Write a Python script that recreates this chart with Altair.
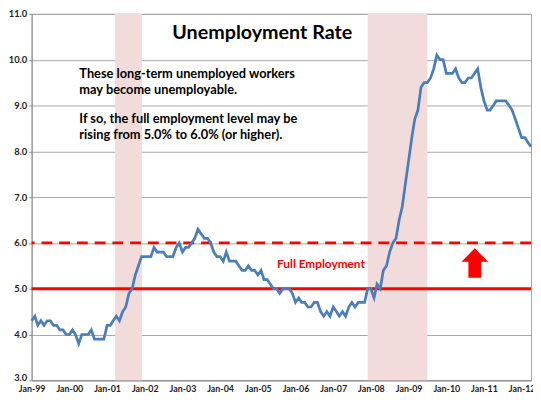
import altair as alt
import pandas as pd

# ---- data (monthly unemployment rate, %) ----
rate_1999 = [4.3, 4.4, 4.2, 4.3, 4.2, 4.3, 4.3, 4.2, 4.2, 4.1, 4.1, 4.0]
rate_2000 = [4.0, 4.1, 4.0, 3.8, 4.0, 4.0, 4.0, 4.1, 3.9, 3.9, 3.9, 3.9]
rate_2001 = [4.2, 4.2, 4.3, 4.4, 4.3, 4.5, 4.6, 4.9, 5.0, 5.3, 5.5, 5.7]
rate_2002 = [5.7, 5.7, 5.7, 5.9, 5.8, 5.8, 5.8, 5.7, 5.7, 5.7, 5.9, 6.0]
rate_2003 = [5.8, 5.9, 5.9, 6.0, 6.1, 6.3, 6.2, 6.1, 6.1, 6.0, 5.8, 5.7]
rate_2004 = [5.7, 5.6, 5.8, 5.6, 5.6, 5.6, 5.5, 5.4, 5.4, 5.5, 5.4, 5.4]
rate_2005 = [5.3, 5.4, 5.2, 5.2, 5.1, 5.0, 5.0, 4.9, 5.0, 5.0, 5.0, 4.9]
rate_2006 = [4.7, 4.8, 4.7, 4.7, 4.6, 4.6, 4.7, 4.7, 4.5, 4.4, 4.5, 4.4]
rate_2007 = [4.6, 4.5, 4.4, 4.5, 4.4, 4.6, 4.7, 4.6, 4.7, 4.7, 4.7, 5.0]
rate_2008 = [5.0, 4.8, 5.1, 5.0, 5.4, 5.5, 5.8, 6.0, 6.1, 6.5, 6.8, 7.3]
rate_2009 = [7.8, 8.3, 8.7, 8.9, 9.4, 9.5, 9.5, 9.6, 9.8, 10.1, 10.0, 10.0]
rate_2010 = [9.7, 9.7, 9.7, 9.8, 9.6, 9.5, 9.5, 9.6, 9.6, 9.7, 9.8, 9.4]
rate_2011 = [9.1, 8.9, 8.9, 9.0, 9.1, 9.1, 9.1, 9.1, 9.0, 8.9, 8.7, 8.5]
rate_2012 = [8.3, 8.3, 8.2, 8.1]

rates = (rate_1999 + rate_2000 + rate_2001 + rate_2002 + rate_2003 + rate_2004
         + rate_2005 + rate_2006 + rate_2007 + rate_2008 + rate_2009 + rate_2010
         + rate_2011 + rate_2012)
months = [f"{1999 + i // 12}/{i % 12 + 1:02d}/01" for i in range(len(rates))]

tick_years = list(range(1999, 2013))

recession_start = ["2001/03/20", "2007/12/01"]
recession_end = ["2001/12/05", "2009/07/01"]

full_employment_old = [5.0]
full_employment_new = [6.0]

# ---- annotations (anchored in data coordinates) ----
title_text = ["Unemployment Rate"]
title_at = ["2005/02/13"]
title_val = [10.58]

note_lines = ["These long-term unemployed workers",
              "may become unemployable.",
              "If so, the full employment level may be",
              "rising from 5.0% to 6.0% (or higher)."]
note_at = ["2000/04/07"] * 4
note_vals = [9.69, 9.34, 8.71, 8.36]

fe_text = ["Full Employment"]
fe_at = ["2006/09/04"]
fe_val = [5.54]

arrow_at = ["2010/10/04"]
arrow_val = [5.56]

FONT = "Lato"

series = pd.DataFrame({"month": months, "rate": rates})
bands = pd.DataFrame({"start": recession_start, "end": recession_end})
old_df = pd.DataFrame({"level": full_employment_old})
new_df = pd.DataFrame({"level": full_employment_new})
title_df = pd.DataFrame({"d": title_at, "v": title_val, "t": title_text})
note_df = pd.DataFrame({"d": note_at, "v": note_vals, "t": note_lines})
fe_df = pd.DataFrame({"d": fe_at, "v": fe_val, "t": fe_text})
arrow_df = pd.DataFrame({"d": arrow_at, "v": arrow_val})

x_scale = alt.Scale(domain=[alt.DateTime(year=1999, month=1, date=1),
                            alt.DateTime(year=2012, month=4, date=1)])
y_scale = alt.Scale(domain=[3, 11], nice=False, zero=False)

x_axis = alt.Axis(values=[alt.DateTime(year=y, month=1, date=1) for y in tick_years],
                  format="%b-%y", grid=False, ticks=False, labelAngle=0,
                  labelFlush=False, labelOverlap=False, labelBound=False, title=None,
                  domainColor="#8c8c8c", labelFont=FONT, labelFontWeight="bold",
                  labelFontSize=9, labelColor="#222222", labelPadding=4)
y_axis = alt.Axis(values=list(range(3, 12)), format=".1f", grid=True,
                  gridColor="#a6a6a6", gridWidth=1, domainColor="#8c8c8c",
                  tickColor="#8c8c8c", tickSize=3, title=None,
                  labelFont=FONT, labelFontWeight="bold", labelFontSize=9.5,
                  labelColor="#222222", labelPadding=2,
                  labelBaseline={"condition": {"test": "datum.value === 3",
                                               "value": "alphabetic"},
                                 "value": "middle"})


def xe(field):
    return alt.X(field, scale=x_scale, axis=x_axis)


def ye(field):
    return alt.Y(field, scale=y_scale, axis=y_axis)


band_layer = alt.Chart(bands).mark_rect(color="#f2dcdb", opacity=1).encode(
    x=xe("start:T"), x2="end:T")

old_rule = alt.Chart(old_df).mark_rule(color="#ff0000", strokeWidth=3).encode(
    y=ye("level:Q"))
new_rule = alt.Chart(new_df).mark_rule(color="#ff0000", strokeWidth=3,
                                       strokeDash=[11, 7]).encode(
    y=ye("level:Q"))

line = alt.Chart(series).mark_line(color="#4a7ebb", strokeWidth=2.75).encode(
    x=xe("month:T"), y=ye("rate:Q"))

title_layer = alt.Chart(title_df).mark_text(
    font=FONT, fontWeight="bold", fontSize=20, color="#000000",
    align="center", baseline="middle").encode(
    x=xe("d:T"), y=ye("v:Q"), text="t:N")

note_layer = alt.Chart(note_df).mark_text(
    font=FONT, fontWeight="bold", fontSize=13, color="#000000",
    align="left", baseline="middle").encode(
    x=xe("d:T"), y=ye("v:Q"), text="t:N")

fe_layer = alt.Chart(fe_df).mark_text(
    font=FONT, fontWeight="bold", fontSize=12, color="#ff0000",
    align="center", baseline="middle").encode(
    x=xe("d:T"), y=ye("v:Q"), text="t:N")

arrow_path = "M0,-1.11L1,-0.1L0.48,-0.1L0.48,1.11L-0.48,1.11L-0.48,-0.1L-1,-0.1Z"
arrow_layer = alt.Chart(arrow_df).mark_point(
    shape=arrow_path, filled=True, color="#ff0000", size=729, opacity=1,
    strokeWidth=0).encode(
    x=xe("d:T"), y=ye("v:Q"))

chart = alt.layer(
    band_layer, old_rule, new_rule, line, title_layer, note_layer, fe_layer, arrow_layer
).properties(
    width=507, height=372,
    autosize=alt.AutoSizeParams(type="none"),
    padding={"left": 24, "top": 3, "right": 2, "bottom": 14},
).configure_view(stroke="#a6a6a6", strokeWidth=1)

chart.save("out.html", embed_options={"renderer": "svg", "actions": False})
